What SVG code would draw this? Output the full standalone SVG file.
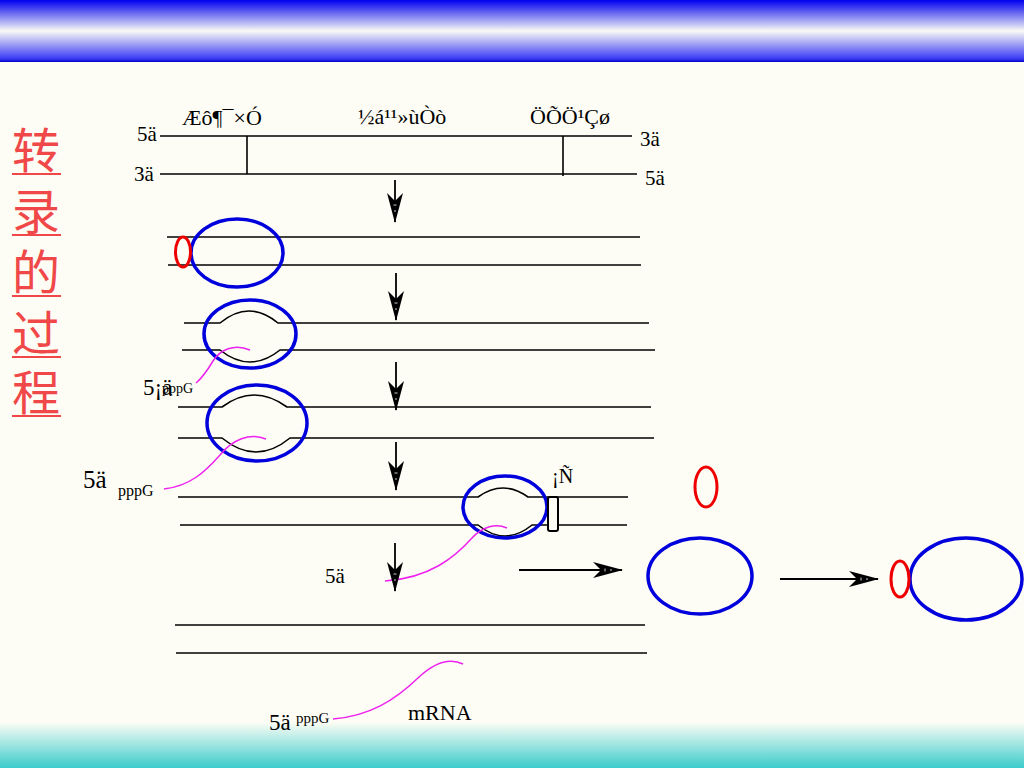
<svg xmlns="http://www.w3.org/2000/svg" width="1024" height="768" viewBox="0 0 1024 768">
<defs>
<linearGradient id="topband" x1="0" y1="0" x2="0" y2="1">
<stop offset="0" stop-color="#0000f0"/>
<stop offset="0.5" stop-color="#fafaf5"/>
<stop offset="0.95" stop-color="#3a3af5"/>
<stop offset="1" stop-color="#0000c8"/>
</linearGradient>
<linearGradient id="botband" x1="0" y1="0" x2="0" y2="1">
<stop offset="0" stop-color="#fdfdf5"/>
<stop offset="1" stop-color="#3ccccc"/>
</linearGradient>
<marker id="barb" markerUnits="userSpaceOnUse" markerWidth="30" markerHeight="18" viewBox="0 0 30 18" refX="29" refY="9" orient="auto">
<path d="M0,1 L30,9 L0,17 L8,9 Z" fill="#000"/>
<path d="M12,7.5 V10.5 M18,8 V10" stroke="#fff" stroke-width="0.8"/>
</marker>
<style>
.strand{fill:none;stroke:#000;stroke-width:1.6}
.poly{fill:none;stroke:#0000dd;stroke-width:3.5}
.sigma{fill:none;stroke:#ee0000;stroke-width:3}
.rna{fill:none;stroke:#ee22ee;stroke-width:1.5}
.arr{stroke:#000;stroke-width:1.8;marker-end:url(#barb)}
.t{font-family:"Liberation Serif","Times New Roman",serif;fill:#000}
.cn{font-family:"Noto Sans CJK SC","Noto Sans",sans-serif;font-size:48px;fill:#f04848}
</style>
</defs>
<rect width="1024" height="768" fill="#fdfdf5"/>
<rect x="0" y="0" width="1024" height="62" fill="url(#topband)"/>
<rect x="0" y="722" width="1024" height="46" fill="url(#botband)"/>

<g id="title">
<text class="cn" x="12 12 12 12 12" y="168 229 290 351 410">转录的过程</text>
<path d="M12,174 H61 M12,235 H61 M12,296 H61 M12,357 H61 M12,416 H61" stroke="#f04848" stroke-width="2"/>
</g>

<g id="gene">
<line class="strand" x1="160" y1="136" x2="632" y2="136"/>
<line class="strand" x1="160" y1="174" x2="637" y2="174"/>
<line class="strand" x1="247" y1="136" x2="247" y2="174"/>
<line class="strand" x1="563" y1="136" x2="563" y2="176"/>
<text class="t" x="182" y="125" font-size="22">Æô¶¯×Ó</text>
<text class="t" x="358" y="124" font-size="22">½á¹¹»ùÒò</text>
<text class="t" x="530" y="124" font-size="22">ÖÕÖ¹Çø</text>
<text class="t" x="137" y="141" font-size="21">5ä</text>
<text class="t" x="134" y="181" font-size="21">3ä</text>
<text class="t" x="640" y="146" font-size="21">3ä</text>
<text class="t" x="645" y="185" font-size="21">5ä</text>
</g>

<g id="stage1">
<line class="strand" x1="167" y1="237" x2="640" y2="237"/>
<line class="strand" x1="168" y1="265" x2="641" y2="265"/>
<ellipse class="poly" cx="237" cy="253" rx="46" ry="34"/>
<ellipse class="sigma" cx="183" cy="252" rx="7.5" ry="15"/>
</g>

<g id="stage2">
<path class="strand" d="M184,323 H220 Q249,299 278,323 H649"/>
<path class="strand" d="M182,350 H220 Q250,374 280,350 H655"/>
<ellipse class="poly" cx="250" cy="334" rx="46" ry="34"/>
<path class="rna" d="M250,350 C234,343 220,350 213,361 C207,371 202,378 196,383"/>
<text class="t" x="143" y="395" font-size="23">5¡ä</text>
<text class="t" x="162" y="393" font-size="14">pppG</text>
</g>

<g id="stage3">
<path class="strand" d="M178,407 H222 Q254,383 287,407 H651"/>
<path class="strand" d="M178,438 H222 Q256,466 290,438 H654"/>
<ellipse class="poly" cx="257" cy="423" rx="50" ry="38"/>
<path class="rna" d="M266,439 C250,432 232,440 220,455 C205,472 190,486 164,489"/>
<text class="t" x="83" y="488" font-size="25">5ä</text>
<text class="t" x="118" y="496" font-size="16">pppG</text>
</g>

<g id="stage4">
<path class="strand" d="M178,497 H478 Q503,479 528,497 H628"/>
<path class="strand" d="M180,525 H478 Q505,547 532,525 H627"/>
<ellipse class="poly" cx="505" cy="507" rx="42" ry="31"/>
<rect x="548" y="497" width="10" height="34" rx="2" fill="#fdfdf5" stroke="#000" stroke-width="2"/>
<text class="t" x="552" y="483" font-size="20">¡Ñ</text>
<path class="rna" d="M507,528 C495,523 482,527 472,538 C455,557 430,578 385,581"/>
<text class="t" x="325" y="583" font-size="21">5ä</text>
</g>

<g id="released">
<ellipse class="poly" cx="700" cy="576" rx="52" ry="38"/>
<ellipse class="sigma" cx="706" cy="487" rx="11" ry="20"/>
</g>

<g id="holoenzyme">
<ellipse class="poly" cx="966" cy="579" rx="56" ry="41"/>
<ellipse class="sigma" cx="900" cy="579" rx="9" ry="18"/>
</g>

<g id="final">
<line class="strand" x1="175" y1="625" x2="645" y2="625"/>
<line class="strand" x1="176" y1="653" x2="647" y2="653"/>
<path class="rna" d="M333,719 C370,716 395,700 418,678 C435,662 450,658 463,664"/>
<text class="t" x="269" y="730" font-size="23">5ä</text>
<text class="t" x="296" y="723" font-size="15">pppG</text>
<text class="t" x="408" y="720" font-size="22">mRNA</text>
</g>

<g id="connectors">
<line class="arr" x1="395" y1="180" x2="395" y2="222"/>
<line class="arr" x1="396" y1="273" x2="396" y2="320"/>
<line class="arr" x1="396" y1="362" x2="396" y2="410"/>
<line class="arr" x1="396" y1="442" x2="396" y2="490"/>
<line class="arr" x1="395" y1="543" x2="395" y2="591"/>
<line class="arr" x1="519" y1="570" x2="622" y2="570"/>
<line class="arr" x1="780" y1="579" x2="878" y2="579"/>
</g>
</svg>
